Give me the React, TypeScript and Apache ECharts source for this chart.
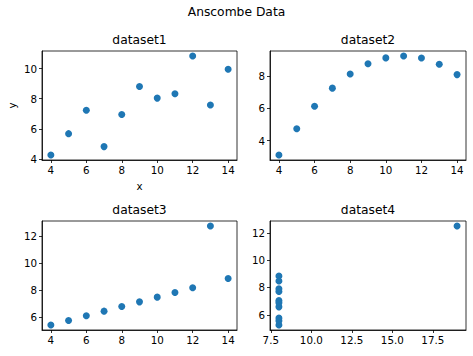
import React, { useEffect, useRef } from "react";
import * as echarts from "echarts";

const titles = ["dataset1", "dataset2", "dataset3", "dataset4"];
const x123 = [10, 8, 13, 9, 11, 14, 6, 4, 12, 7, 5];
const y1 = [8.04, 6.95, 7.58, 8.81, 8.33, 9.96, 7.24, 4.26, 10.84, 4.82, 5.68];
const y2 = [9.14, 8.14, 8.74, 8.77, 9.26, 8.1, 6.13, 3.1, 9.13, 7.26, 4.74];
const y3 = [7.46, 6.77, 12.74, 7.11, 7.81, 8.84, 6.08, 5.39, 8.15, 6.42, 5.73];
const x4 = [8, 8, 8, 8, 8, 8, 8, 19, 8, 8, 8];
const y4 = [6.58, 5.76, 7.71, 8.84, 8.47, 7.04, 5.25, 12.5, 5.56, 7.91, 6.89];

const xTicks123 = [4, 6, 8, 10, 12, 14];
const xTicks4 = [7.5, 10, 12.5, 15, 17.5];
const yTicks1 = [4, 6, 8, 10];
const yTicks2 = [4, 6, 8];
const yTicks3 = [6, 8, 10, 12];
const yTicks4 = [6, 8, 10, 12];

const FONT = "DejaVu Sans";
const COLOR = "#1f77b4";

function pad(arr: number[]) {
  const lo = Math.min(...arr);
  const hi = Math.max(...arr);
  const m = (hi - lo) * 0.05;
  return [lo - m, hi + m];
}

export default function App() {
  const ref = useRef<HTMLDivElement>(null);
  useEffect(() => {
    document.body.style.margin = "0";
    const chart = echarts.init(ref.current!, null, { renderer: "svg" });
    const sets = [
      { x: x123, y: y1, xt: xTicks123, yt: yTicks1, fmt: (v: number) => String(v) },
      { x: x123, y: y2, xt: xTicks123, yt: yTicks2, fmt: (v: number) => String(v) },
      { x: x123, y: y3, xt: xTicks123, yt: yTicks3, fmt: (v: number) => String(v) },
      { x: x4, y: y4, xt: xTicks4, yt: yTicks4, fmt: (v: number) => v.toFixed(1) },
    ];
    const gridPos = [
      { left: 42, top: 51, width: 195, height: 109 },
      { left: 270, top: 51, width: 196, height: 109 },
      { left: 42, top: 221, width: 195, height: 109 },
      { left: 270, top: 221, width: 196, height: 109 },
    ];
    const axisCommon = {
      type: "value" as const,
      splitLine: { show: false },
      axisLine: { show: true, onZero: false, lineStyle: { color: "#000", width: 0.8 } },
    };
    const option: any = {
      animation: false,
      textStyle: { fontFamily: FONT },
      title: [
        {
          text: "Anscombe Data",
          left: 236.5,
          top: 6,
          padding: 0,
          textAlign: "center",
          textStyle: { fontFamily: FONT, fontSize: 12.3, fontWeight: "normal", color: "#000" },
        },
        ...titles.map((t, i) => ({
          text: t,
          left: gridPos[i].left + gridPos[i].width / 2,
          top: gridPos[i].top - 17,
          padding: 0,
          textAlign: "center",
          textStyle: { fontFamily: FONT, fontSize: 12.3, fontWeight: "normal", color: "#000" },
        })),
      ],
      grid: gridPos.map((g) => ({
        ...g,
        show: true,
        borderColor: "#000",
        borderWidth: 0.8,
        backgroundColor: "transparent",
      })),
      xAxis: sets.map((s, i) => {
        const [mn, mx] = pad(s.x);
        return {
          ...axisCommon,
          gridIndex: i,
          min: mn,
          max: mx,
          name: i === 0 ? "x" : "",
          nameLocation: "middle",
          nameGap: 21,
          nameTextStyle: { fontFamily: FONT, fontSize: 10.3, color: "#000" },
          axisTick: { show: true, length: 3, customValues: s.xt, lineStyle: { color: "#000", width: 0.8 } },
          axisLabel: {
            customValues: s.xt,
            formatter: s.fmt,
            margin: 5,
            fontFamily: FONT,
            fontSize: 10.3,
            color: "#000",
          },
        };
      }),
      yAxis: sets.map((s, i) => {
        const [mn, mx] = pad(s.y);
        return {
          ...axisCommon,
          gridIndex: i,
          min: mn,
          max: mx,
          name: i === 0 ? "y" : "",
          nameLocation: "middle",
          nameGap: 25,
          nameTextStyle: { fontFamily: FONT, fontSize: 10.3, color: "#000" },
          axisTick: { show: true, length: 3, customValues: s.yt, lineStyle: { color: "#000", width: 0.8 } },
          axisLabel: {
            customValues: s.yt,
            formatter: (v: number) => String(v),
            margin: 5,
            fontFamily: FONT,
            fontSize: 10.3,
            color: "#000",
          },
        };
      }),
      series: sets.map((s, i) => ({
        type: "scatter",
        xAxisIndex: i,
        yAxisIndex: i,
        symbolSize: 7,
        itemStyle: { color: COLOR, opacity: 1 },
        data: s.x.map((xv, k) => [xv, s.y[k]]),
      })),
    };
    chart.setOption(option);
    return () => chart.dispose();
  }, []);
  return <div ref={ref} style={{ width: 473, height: 356 }} />;
}
